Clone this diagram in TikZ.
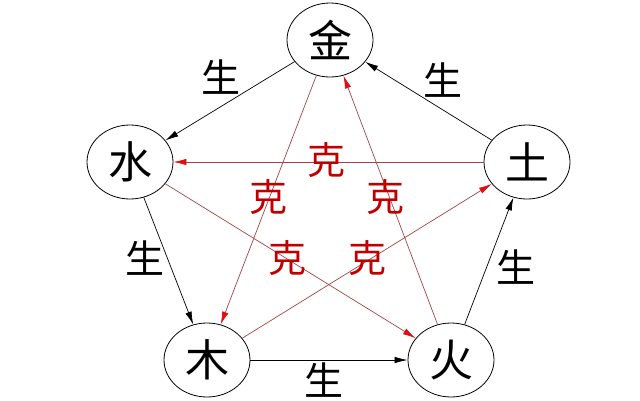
\documentclass[tikz,border=0pt]{standalone}
\usepackage{fontspec}
\setmainfont{Noto Sans CJK SC}
\usetikzlibrary{
arrows.meta,
shapes.geometric
}
\definecolor{WXLine}{HTML}{A04545}
\definecolor{WXRed}{HTML}{E01010}
\definecolor{WXText}{HTML}{C00000}
\tikzset{
wxelem/.style={draw=black, ellipse, line width=0.8pt, minimum width=86pt,
  minimum height=74pt, inner sep=0pt, font=\fontsize{44}{44}\selectfont},
wxsheng/.style={-{Latex[length=13pt,width=6.5pt]}, line width=0.7pt, draw=black},
wxke/.style={-{Latex[length=13pt,width=6.5pt,color=WXRed]}, line width=0.7pt, draw=WXLine},
wxshenglabel/.style={font=\fontsize{39}{39}\selectfont, text=black},
wxkelabel/.style={font=\fontsize{38}{38}\selectfont, text=WXText}
}

\begin{document}
\begin{tikzpicture}[x=1pt, y=-1pt]
\useasboundingbox (0,0) rectangle (640,400);
\node[wxelem] (jin) at (330,40) {金};
\node[wxelem] (shui) at (130,162) {水};
\node[wxelem] (tu) at (527,162) {土};
\node[wxelem] (mu) at (207,360) {木};
\node[wxelem] (huo) at (451,360) {火};

% sheng cycle
\draw[wxsheng] (jin) -- (shui);
\draw[wxsheng] (shui) -- (mu);
\draw[wxsheng] (mu) -- (huo);
\draw[wxsheng] (huo) -- (tu);
\draw[wxsheng] (tu) -- (jin);

% ke cycle
\draw[wxke] (tu) -- (shui);
\draw[wxke] (jin) -- (mu);
\draw[wxke] (huo) -- (jin);
\draw[wxke] (shui) -- (huo);
\draw[wxke] (mu) -- (tu);

\node[wxshenglabel] (s1) at (221,77) {生};
\node[wxshenglabel] (s2) at (443,80) {生};
\node[wxshenglabel] (s3) at (145,258) {生};
\node[wxshenglabel] (s4) at (516,267) {生};
\node[wxshenglabel] (s5) at (324,380) {生};

\node[wxkelabel] (k1) at (326,160) {克};
\node[wxkelabel] (k2) at (268,197) {克};
\node[wxkelabel] (k3) at (385,197) {克};
\node[wxkelabel] (k4) at (287,258) {克};
\node[wxkelabel] (k5) at (367,258) {克};
\end{tikzpicture}
\end{document}
